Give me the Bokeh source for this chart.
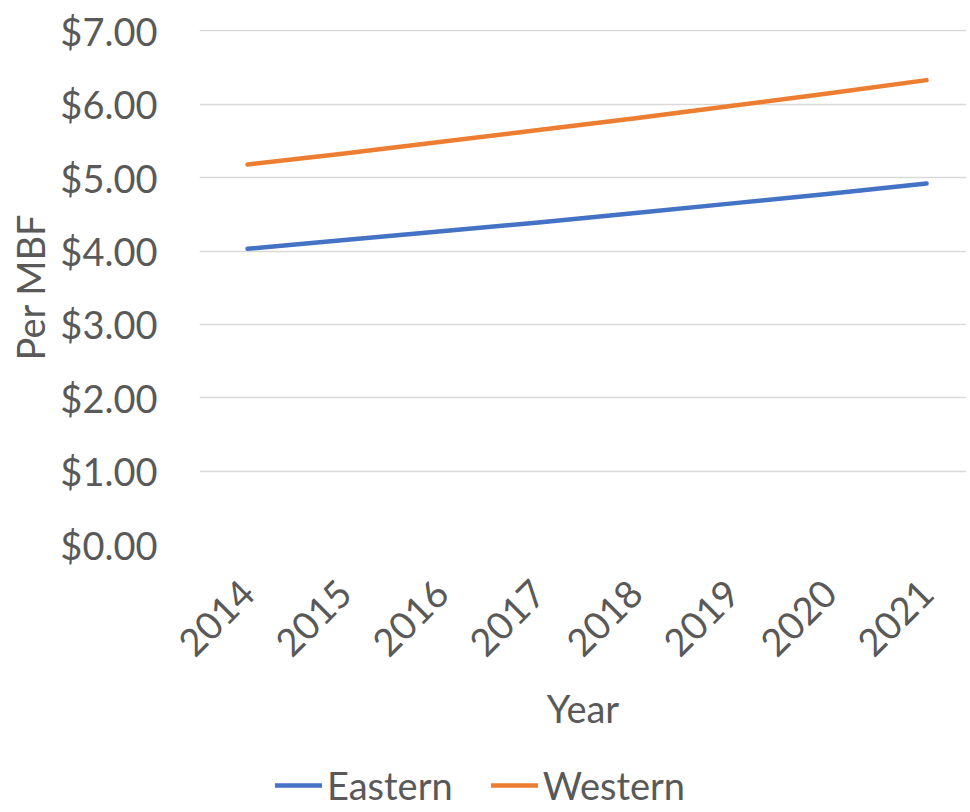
from math import pi
from bokeh.plotting import figure
from bokeh.layouts import column
from bokeh.models import (Range1d, FixedTicker, NumeralTickFormatter, Legend, LegendItem)
from bokeh.embed import file_html
from bokeh.resources import INLINE

years = [2014, 2015, 2016, 2017, 2018, 2019, 2020, 2021]
eastern = [4.03, 4.15, 4.27, 4.39, 4.52, 4.65, 4.78, 4.92]
western = [5.18, 5.33, 5.49, 5.65, 5.81, 5.98, 6.15, 6.33]
y_ticks = [0, 1, 2, 3, 4, 5, 6, 7]
series_names = ["Eastern", "Western"]
series_colors = ["#4472C4", "#ED7D31"]

FONT = "Lato"
TXT = "#595959"
FS = "38px"

p = figure(width=966, height=758, output_backend="svg", toolbar_location=None,
           x_range=Range1d(2013.505, 2021.412), y_range=Range1d(0, 7.02),
           min_border_left=199, min_border_right=0, min_border_top=29, min_border_bottom=214)
p.outline_line_color = None

for vals, col in zip([eastern, western], series_colors):
    p.line(years, vals, line_color=col, line_width=4.5, line_cap="round", line_join="round")

# axes
p.yaxis.ticker = FixedTicker(ticks=y_ticks)
p.yaxis.formatter = NumeralTickFormatter(format="$0.00")
p.xaxis.ticker = FixedTicker(ticks=years)
for ax in (p.xaxis[0], p.yaxis[0]):
    ax.axis_line_color = None
    ax.major_tick_line_color = None
    ax.minor_tick_line_color = None
    ax.major_tick_in = 0
    ax.major_tick_out = 0
    ax.major_label_text_font = FONT
    ax.major_label_text_font_size = FS
    ax.major_label_text_color = TXT
    ax.axis_label_text_font = FONT
    ax.axis_label_text_font_size = FS
    ax.axis_label_text_color = TXT
    ax.axis_label_text_font_style = "normal"

p.yaxis.axis_label = "Per MBF"
p.yaxis.major_label_standoff = 42
p.yaxis.axis_label_standoff = 4
p.xaxis.axis_label = "Year"
p.xaxis.major_label_orientation = pi / 4
p.xaxis.major_label_standoff = 42
p.xaxis.axis_label_standoff = 13

p.xgrid.grid_line_color = None
p.ygrid.ticker = FixedTicker(ticks=y_ticks)
p.ygrid.grid_line_color = "#D9D9D9"
p.ygrid.grid_line_width = 1.5

# legend strip below the chart (series drawn off-view so only legend glyphs show)
pl = figure(width=966, height=52, output_backend="svg", toolbar_location=None,
            x_axis_type=None, y_axis_type=None, min_border=0,
            x_range=Range1d(0, 1), y_range=Range1d(0, 1))
pl.outline_line_color = None
pl.xgrid.grid_line_color = None
pl.ygrid.grid_line_color = None
items = []
for name, vals, col in zip(series_names, [eastern, western], series_colors):
    rr = pl.line(years, vals, line_color=col, line_width=4.5, line_cap="round")
    items.append(LegendItem(label=name, renderers=[rr]))
legend = Legend(items=items, location=(76, 2), orientation="horizontal",
                glyph_width=47, glyph_height=30, label_standoff=5, spacing=38,
                padding=0, margin=0, border_line_color=None, background_fill_alpha=0,
                label_text_font=FONT, label_text_font_size=FS, label_text_color=TXT,
                label_height=40)
pl.add_layout(legend, "center")

layout = column(p, pl, spacing=0)
open("out.html", "w").write(file_html(layout, INLINE))
